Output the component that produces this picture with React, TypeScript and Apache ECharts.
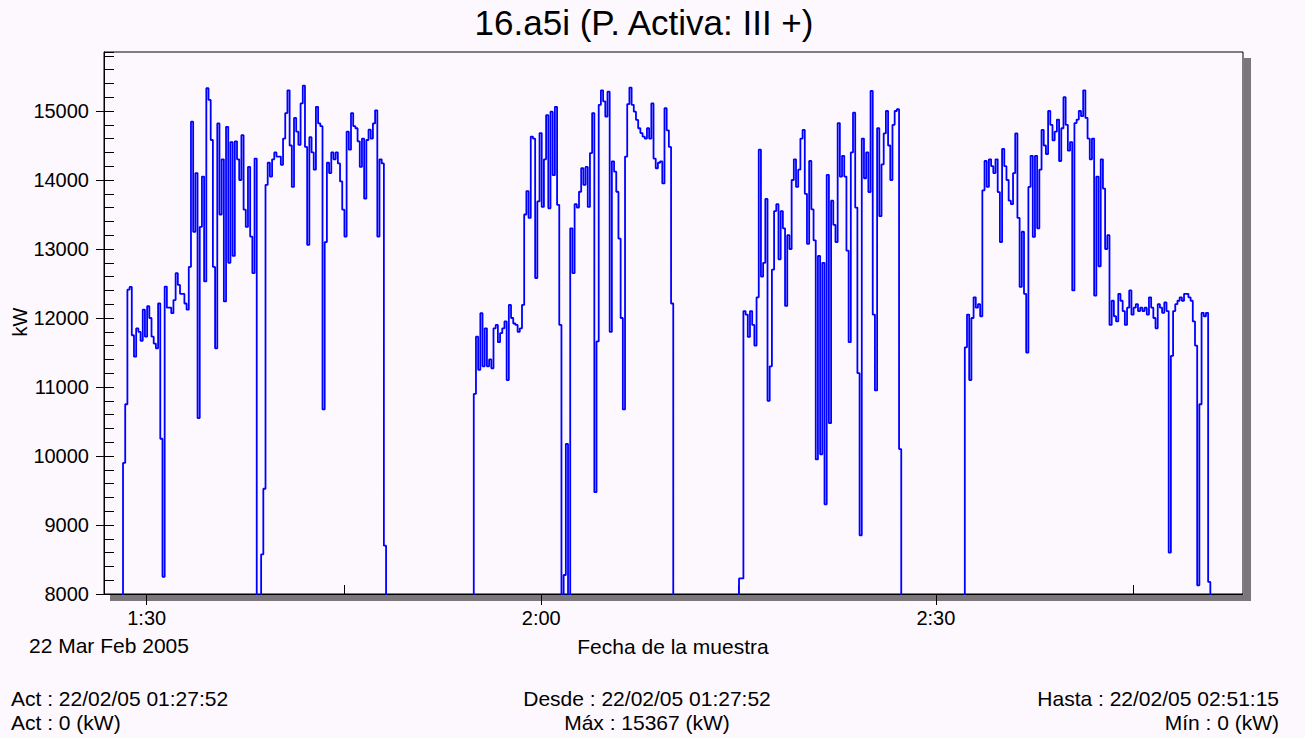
import React, { useEffect, useRef } from "react";
import * as echarts from "echarts";

// ---- texts ----
const TITLE = "16.a5i (P. Activa: III +)";
const X_NAME = "Fecha de la muestra";
const Y_NAME = "kW";
const DATE_LABEL = "22 Mar Feb 2005";
const FOOT_LEFT = ["Act : 22/02/05 01:27:52", "Act : 0 (kW)"];
const FOOT_MID = ["Desde : 22/02/05 01:27:52", "Máx : 15367 (kW)"];
const FOOT_RIGHT = ["Hasta : 22/02/05 02:51:15", "Mín : 0 (kW)"];

// ---- axes (x in minutes of the day) ----
const X_MIN = 86.754;
const X_MAX = 173.35;
const xMajorTicks = [90, 120, 150];
const xMajorLabels = ["1:30", "2:00", "2:30"];
const xMinorTicks = [105, 135, 165];
const Y_MIN = 8000;
const Y_MAX = 15855;
const yTicks = [8000, 9000, 10000, 11000, 12000, 13000, 14000, 15000];

// ---- samples: one every 10 s starting 01:27:52 (kW) ----
const START_MIN = 87 + 52 / 60;
const STEP_MIN = 10 / 60;

const burst1 = [
  0, 0, 9900, 10750, 12410, 12450, 11750, 11440, 11850, 11800,
  11670, 12120, 11730, 12170, 12000, 11730, 11630, 11560, 12210, 10250,
  8250, 12455, 12150, 12150, 12070, 12260, 12650, 12480, 12350, 12350,
  12210, 12120, 12740, 14845, 13250, 14100, 10550, 13320, 14050, 12530,
  15330, 15160, 14580, 12740, 11560, 14820, 13500, 14300, 12240, 14770,
  12800, 14550, 12900, 14560, 14300, 14000, 14650, 13570, 13320, 14190,
  13180, 12650, 14310, 0, 0, 8575, 9525, 13930, 14250, 14050,
  14300, 14400, 14340, 14340, 14220, 14600, 14970, 15300, 14500, 13900,
  14900, 14700, 14510, 15110, 15367, 14480, 13060, 14620, 14400, 14150,
  15060, 14820, 14780, 10675, 13100, 14250, 14100, 14400, 14300, 14400,
  14240, 13980, 13570, 13180, 14700, 14440, 14970, 14780, 14750, 14560,
  14190, 14600, 13730, 14580, 14730, 14600, 14820, 15010, 13180, 14300,
  14240, 8700,
];
const gap1 = [
  0, 0, 0, 0, 0, 0, 0, 0, 0, 0,
  0, 0, 0, 0, 0, 0, 0, 0, 0, 0,
  0, 0, 0, 0, 0, 0, 0, 0, 0, 0,
  0, 0, 0, 0, 0, 0, 0, 0, 0, 0,
];
const burst2 = [
  10900, 11730, 11250, 12070, 11300, 11850, 11300, 11400, 11270, 11850,
  11900, 11650, 11780, 11850, 11950, 11100, 12190, 12000, 11920, 11900,
  11800, 11850, 12190, 13500, 13840, 13450, 14630, 14600, 12580, 13690,
  14680, 13610, 14300, 14940, 13590, 14990, 14070, 15060, 13640, 11900,
  0, 8275, 10175, 0, 13300, 12650, 13650, 13600, 13830, 14170,
  13930, 14190, 13610, 14390, 14970, 9475, 11660, 15090, 15300, 15140,
  14920, 15280, 11800, 14270, 14120, 13830, 13150, 12000, 10675, 14340,
  15100, 15340, 15090, 14990, 14870, 14750, 14680, 14630, 14600, 14750,
  14600, 15110, 14310, 14170, 14250, 14270, 13950, 15040, 14720, 14480,
  12210,
];
const gap2 = [
  0, 0, 0, 0, 0, 0, 0, 0, 0, 0,
  0, 0, 0, 0, 0, 0, 0, 0, 0, 0,
  0, 0, 0, 0, 0, 0, 0, 0, 0, 0,
];
const burst3 = [
  8225, 8225, 12100, 12050, 11725, 12100, 11900, 11600, 12300, 14440,
  12600, 12800, 13725, 10800, 11300, 12700, 13550, 13650, 12850, 13550,
  13300, 12175, 13200, 13000, 14000, 14300, 13900, 14150, 14600, 14725,
  13800, 13075, 14275, 13575, 13125, 9950, 12900, 10025, 12800, 9300,
  14075, 10475, 13700, 13350, 13100, 14825, 14050, 14350, 14050, 12975,
  11650, 14400, 14975, 13600, 11200, 8850, 14600, 14025, 14400, 13825,
  15290, 12050, 10950, 14750, 13475, 14225, 14675, 15000, 14500, 14000,
  14800, 15000, 15025, 10100,
];
const gap3 = [
  0, 0, 0, 0, 0, 0, 0, 0, 0, 0,
  0, 0, 0, 0, 0, 0, 0, 0, 0, 0,
  0, 0, 0, 0, 0, 0, 0, 0, 0,
];
const burst4 = [
  11575, 12050, 11100, 12000, 12300, 12150, 12200, 12025, 13850, 14275,
  13900, 14300, 14200, 14100, 14300, 13825, 13100, 14450, 14200, 14000,
  13700, 13650, 14100, 14675, 13450, 12450, 13250, 12350, 11500, 13900,
  14350, 13175, 14350, 13300, 14150, 14725, 14500, 14375, 15000, 14800,
  14575, 14700, 14875, 14275, 14750, 15200, 14800, 14425, 14550, 12400,
  14825, 14875, 15000, 14925, 15300, 14900, 14600, 14300, 14600, 12325,
  14050, 12750, 14300, 13875, 13000, 13200, 11900, 12250, 12025, 11950,
  12350, 12250, 12100, 11900, 12150, 12400, 12050, 12150, 12200, 12100,
  12150, 12100, 12150, 12050, 12300, 12150, 12000, 11850, 12200, 12150,
  12075, 12225, 12100, 8600, 11450, 12100, 12200, 12250, 12300, 12250,
  12350, 12350, 12300, 12250, 11950, 11600, 8125, 10750, 12075, 12025,
  12075, 8175,
];
const tail = [0, 0, 0];

const kw = [...burst1, ...gap1, ...burst2, ...gap2, ...burst3, ...gap3, ...burst4, ...tail];

const BG = "#fdf8fd";
const FONT = '"Liberation Sans", Arial, sans-serif';

function txt(text: string, x: number, y: number, size: number, align: string, rotation = 0) {
  return {
    type: "text",
    x,
    y,
    rotation,
    silent: true,
    style: {
      text,
      fill: "#000",
      fontSize: size,
      fontFamily: FONT,
      align,
      verticalAlign: "middle",
      textAlign: align,
      textVerticalAlign: "middle",
    },
  };
}

export default function App() {
  const ref = useRef<HTMLDivElement>(null);
  useEffect(() => {
    if (!ref.current) return;
    const chart = echarts.init(ref.current, undefined, { renderer: "svg" });
    const data = kw.map((v, i) => [START_MIN + i * STEP_MIN, v]);
    const option: any = {
      animation: false,
      backgroundColor: BG,
      grid: {
        left: 104,
        right: 62,
        top: 52,
        bottom: 144,
        show: true,
        backgroundColor: BG,
        borderColor: "#000",
        borderWidth: 1,
      },
      xAxis: [
        {
          type: "value",
          min: X_MIN,
          max: X_MAX,
          position: "bottom",
          axisLine: { show: true, onZero: false, lineStyle: { color: "#000", width: 1 } },
          axisTick: {
            show: true,
            inside: false,
            length: 11,
            customValues: xMajorTicks,
            lineStyle: { color: "#000", width: 1 },
          },
          axisLabel: {
            show: true,
            customValues: xMajorTicks,
            formatter: (v: number) => xMajorLabels[xMajorTicks.indexOf(v)] ?? "",
            color: "#000",
            fontSize: 20,
            fontFamily: FONT,
            margin: 14,
          },
          splitLine: { show: false },
        },
        {
          type: "value",
          min: X_MIN,
          max: X_MAX,
          position: "bottom",
          axisLine: { show: false, onZero: false },
          axisTick: {
            show: true,
            inside: true,
            length: 9,
            customValues: xMinorTicks,
            lineStyle: { color: "#000", width: 1 },
          },
          axisLabel: { show: false },
          splitLine: { show: false },
        },
      ],
      yAxis: [
        {
          type: "value",
          min: Y_MIN,
          max: Y_MAX,
          interval: 1000,
          position: "left",
          axisLine: { show: true, onZero: false, lineStyle: { color: "#000", width: 1 } },
          axisTick: {
            show: true,
            inside: false,
            length: 8,
            customValues: yTicks,
            lineStyle: { color: "#000", width: 1 },
          },
          axisLabel: {
            customValues: yTicks,
            formatter: (v: number) => String(v),
            color: "#000",
            fontSize: 20,
            fontFamily: FONT,
            margin: 15,
          },
          splitLine: { show: false },
        },
        {
          type: "value",
          min: Y_MIN,
          max: Y_MAX,
          interval: 200,
          position: "left",
          axisLine: { show: false, onZero: false },
          axisTick: { show: true, inside: true, length: 10, lineStyle: { color: "#000", width: 1 } },
          axisLabel: { show: false },
          splitLine: { show: false },
        },
      ],
      series: [
        {
          type: "line",
          data,
          step: "end",
          showSymbol: false,
          symbol: "none",
          clip: true,
          lineStyle: { color: "#0000ff", width: 1.8 },
          xAxisIndex: 0,
          yAxisIndex: 0,
        },
      ],
      graphic: [
        {
          type: "rect",
          silent: true,
          shape: { x: 1244, y: 58, width: 7, height: 543 },
          style: { fill: "#7a767a" },
        },
        {
          type: "rect",
          silent: true,
          shape: { x: 110, y: 595, width: 1141, height: 6 },
          style: { fill: "#7a767a" },
        },
        txt(TITLE, 644, 22, 35, "center"),
        txt(Y_NAME, 20, 322, 20, "center", Math.PI / 2),
        txt(DATE_LABEL, 29, 645, 21, "left"),
        txt(X_NAME, 673, 646, 21, "center"),
        txt(FOOT_LEFT[0], 11, 698, 21, "left"),
        txt(FOOT_LEFT[1], 11, 722, 21, "left"),
        txt(FOOT_MID[0], 647, 698, 21, "center"),
        txt(FOOT_MID[1], 647, 722, 21, "center"),
        txt(FOOT_RIGHT[0], 1279, 698, 21, "right"),
        txt(FOOT_RIGHT[1], 1279, 722, 21, "right"),
      ],
    };
    chart.setOption(option);
    return () => chart.dispose();
  }, []);
  return (
    <div
      ref={ref}
      style={{ position: "fixed", left: 0, top: 0, width: 1305, height: 738, background: BG }}
    />
  );
}
